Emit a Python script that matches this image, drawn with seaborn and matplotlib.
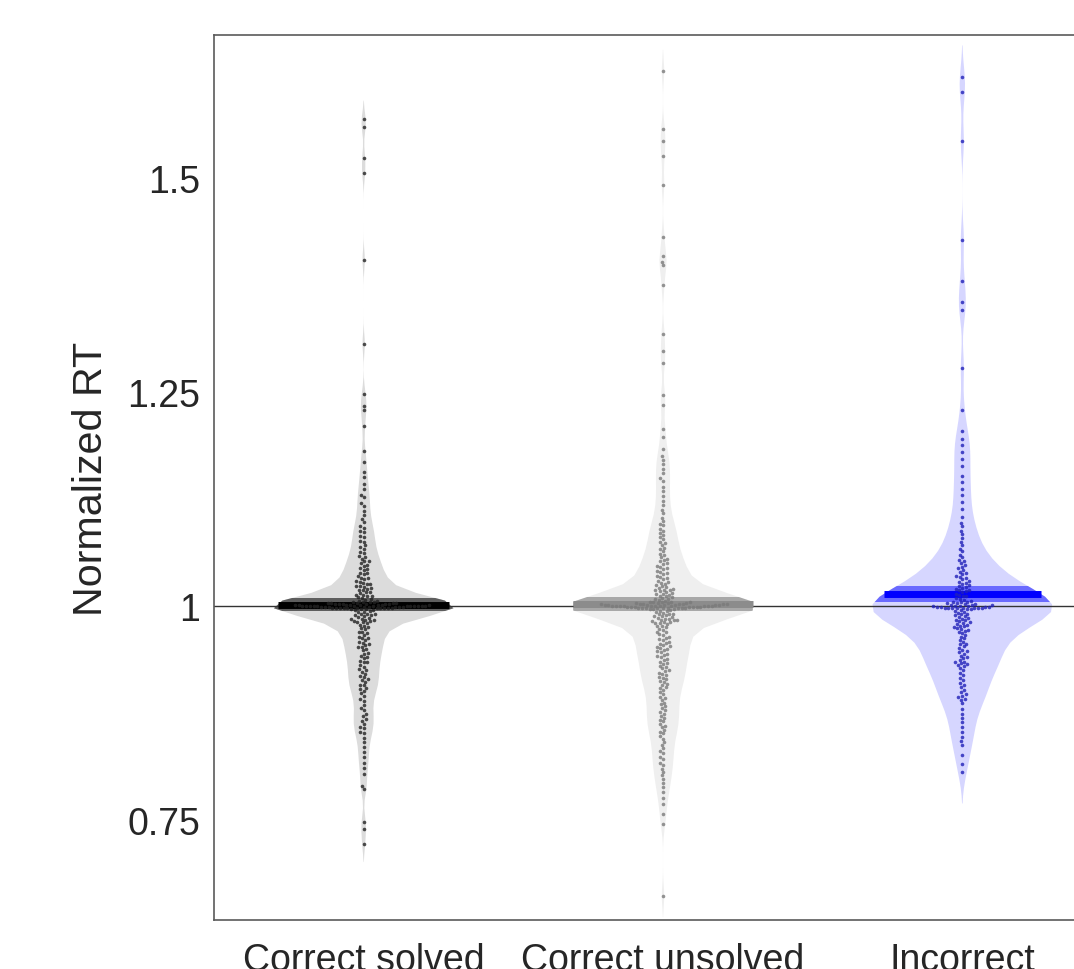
import numpy as np
import pandas as pd
import matplotlib
matplotlib.use("Agg")
import matplotlib.pyplot as plt
from matplotlib.patches import Rectangle
import seaborn as sns

# ---------------- data ----------------
categories = ["Correct solved", "Correct unsolved", "Incorrect"]

correct_solved = [
    1.569, 1.560, 1.523, 1.506, 1.404, 1.306, 1.248, 1.234, 1.229, 1.210, 1.181,
    1.168, 1.157, 1.151, 1.142, 1.137, 1.130, 1.127, 1.120, 1.117, 1.111, 1.106, 1.102,
    1.098, 1.093, 1.091, 1.088, 1.086, 1.082, 1.080, 1.076, 1.075, 1.071, 1.069, 1.067,
    1.063, 1.062, 1.058, 1.057, 1.055, 1.052, 1.052, 1.050,
    1.048, 1.047, 1.044, 1.043, 1.042, 1.039, 1.038, 1.037, 1.035, 1.033, 1.033, 1.031,
    1.029, 1.028, 1.027, 1.026, 1.025, 1.023, 1.023, 1.022, 1.021, 1.020,
    1.019, 1.018, 1.016, 1.016, 1.015, 1.013, 1.013, 1.012, 1.011, 1.010, 1.009, 1.008,
    1.007, 1.006, 1.006,
    1.005, 1.004, 1.004, 1.003, 1.003, 1.003, 1.002, 1.002, 1.002, 1.002, 1.001, 1.001,
    1.001, 1.001, 1.001, 1.000, 1.000, 1.000, 1.000, 1.000, 1.000, 1.000, 1.000, 0.999,
    0.999, 0.999, 0.999, 0.999, 0.998, 0.998, 0.998, 0.998, 0.997, 0.997, 0.997, 0.996,
    0.996, 0.995, 0.995, 1.000, 1.001, 0.999, 1.002, 0.998, 1.000, 1.003, 0.997, 1.001,
    0.999, 1.000, 1.004, 0.996, 1.002, 0.998, 1.000, 1.001, 0.999, 1.000, 1.003, 0.997,
    0.994, 0.993, 0.993, 0.991, 0.991, 0.990, 0.989, 0.989, 0.988, 0.987, 0.986, 0.985,
    0.985, 0.984, 0.983, 0.982, 0.982, 0.981, 0.981, 0.980,
    0.978, 0.977, 0.975, 0.974, 0.973, 0.970, 0.970, 0.968, 0.966, 0.964, 0.963, 0.962,
    0.960, 0.958, 0.957, 0.955, 0.954, 0.952, 0.952, 0.950,
    0.948, 0.945, 0.944, 0.942, 0.940, 0.939, 0.936, 0.935, 0.934, 0.931, 0.929, 0.926,
    0.925, 0.923, 0.921, 0.918, 0.917, 0.914, 0.913, 0.911, 0.908, 0.907, 0.904, 0.903,
    0.901,
    0.898, 0.895, 0.891, 0.889, 0.884, 0.881, 0.878, 0.874, 0.871, 0.868, 0.866, 0.862,
    0.859, 0.857, 0.853, 0.851,
    0.846, 0.841, 0.835, 0.829, 0.824, 0.817, 0.811, 0.803,
    0.790, 0.786, 0.748, 0.739, 0.722,
]

correct_unsolved = [
    1.625, 1.557, 1.543, 1.526, 1.492, 1.431, 1.409, 1.402, 1.398, 1.375, 1.318, 1.298,
    1.284, 1.246, 1.235, 1.207, 1.197, 1.183, 1.175,
    1.171, 1.166, 1.160, 1.155, 1.149, 1.146, 1.139, 1.134, 1.128, 1.123, 1.118, 1.112,
    1.108, 1.103,
    1.099, 1.096, 1.094, 1.090, 1.088, 1.085, 1.083, 1.080, 1.078, 1.075, 1.073, 1.071,
    1.068, 1.066, 1.064, 1.061, 1.059, 1.057, 1.055, 1.054, 1.052, 1.050,
    1.049, 1.047, 1.046, 1.044, 1.043, 1.041, 1.040, 1.038, 1.037, 1.035, 1.034, 1.032,
    1.031, 1.029, 1.028, 1.027, 1.026, 1.024, 1.023, 1.022, 1.021, 1.020,
    1.019, 1.018, 1.018, 1.017, 1.016, 1.015, 1.014, 1.014, 1.013, 1.012, 1.011, 1.010,
    1.009, 1.008, 1.008, 1.007, 1.006, 1.005,
    1.005, 1.004, 1.004, 1.004, 1.003, 1.003, 1.003, 1.002, 1.002, 1.002, 1.002, 1.001,
    1.001, 1.001, 1.001, 1.000, 1.000, 1.000, 1.000, 1.000, 1.000, 1.000, 0.999, 0.999,
    0.999, 0.999, 0.998, 0.998, 0.998, 0.997, 0.997, 0.997, 0.996, 0.996, 0.995, 1.000,
    1.001, 0.999, 1.002, 0.998, 1.000, 1.003, 0.997, 1.001, 0.999, 1.000, 1.002, 0.996,
    1.001, 0.998, 1.000, 1.002, 0.999,
    0.994, 0.994, 0.993, 0.992, 0.991, 0.991, 0.990, 0.989, 0.988, 0.988, 0.987, 0.986,
    0.985, 0.985, 0.984, 0.983, 0.983, 0.982, 0.981, 0.981, 0.980, 0.980,
    0.979, 0.977, 0.976, 0.975, 0.973, 0.972, 0.970, 0.969, 0.967, 0.966, 0.964, 0.963,
    0.961, 0.960, 0.958, 0.957, 0.956, 0.954, 0.953, 0.952, 0.951, 0.950,
    0.949, 0.947, 0.946, 0.944, 0.943, 0.941, 0.940, 0.938, 0.937, 0.935, 0.933, 0.932,
    0.930, 0.929, 0.927, 0.925, 0.924, 0.922, 0.921, 0.919, 0.917, 0.916, 0.914, 0.912,
    0.911, 0.909, 0.907, 0.905, 0.904, 0.902,
    0.899, 0.897, 0.894, 0.892, 0.890, 0.887, 0.885, 0.883, 0.881, 0.878, 0.876, 0.874,
    0.871, 0.869, 0.867, 0.865, 0.862, 0.860, 0.858, 0.855, 0.853, 0.851,
    0.848, 0.845, 0.841, 0.838, 0.834, 0.831, 0.828, 0.824, 0.821, 0.817, 0.814, 0.810,
    0.806, 0.802, 0.798, 0.793, 0.788, 0.783,
    0.776, 0.768, 0.757, 0.745,
    0.661,
]

incorrect = [
    1.618, 1.600, 1.543, 1.428, 1.380, 1.355, 1.346, 1.278, 1.229, 1.204,
    1.195, 1.188, 1.180, 1.172, 1.163, 1.152, 1.145, 1.137, 1.129, 1.121, 1.113, 1.104,
    1.097, 1.093, 1.088, 1.084, 1.079, 1.075, 1.071, 1.067, 1.064, 1.060, 1.057, 1.054,
    1.052, 1.050,
    1.048, 1.046, 1.044, 1.042, 1.040, 1.039, 1.037, 1.035, 1.034, 1.032, 1.031, 1.029,
    1.028, 1.027, 1.026, 1.024, 1.023, 1.022, 1.021, 1.020,
    1.019, 1.018, 1.017, 1.016, 1.014, 1.013, 1.012, 1.011, 1.009, 1.008, 1.007, 1.006,
    1.005, 1.004, 1.004, 1.003, 1.003, 1.002, 1.002, 1.001, 1.001, 1.000, 1.000, 1.000,
    0.999, 0.999, 0.999, 0.998, 0.998, 0.998, 0.997, 0.997, 0.997, 0.996, 0.996, 0.995,
    0.999, 1.000, 0.998, 1.001, 0.997,
    0.994, 0.993, 0.992, 0.991, 0.990, 0.989, 0.988, 0.987, 0.986, 0.985, 0.984, 0.983,
    0.982, 0.981, 0.980, 0.979, 0.978, 0.977, 0.976, 0.975, 0.974, 0.973, 0.972, 0.971,
    0.970,
    0.968, 0.966, 0.964, 0.962, 0.960, 0.958, 0.956, 0.955, 0.953, 0.951, 0.949, 0.947,
    0.946, 0.944, 0.942, 0.940, 0.939, 0.937, 0.935, 0.934, 0.933, 0.932, 0.931, 0.930,
    0.928, 0.925, 0.922, 0.919, 0.916, 0.913, 0.910, 0.908, 0.905, 0.902, 0.899, 0.897,
    0.895, 0.893, 0.891, 0.890,
    0.886, 0.880, 0.874, 0.869, 0.864, 0.858, 0.853, 0.847, 0.842,
    0.838, 0.826, 0.815, 0.806,
]

yticks = [0.75, 1.0, 1.25, 1.5]
ytick_labels = ["0.75", "1", "1.25", "1.5"]

violin_colors = ["#dcdcdc", "#efefef", "#d6d6ff"]
band_colors = ["#5e5e5e", "#a8a8a8", "#6a6aff"]
bar_colors = ["#000000", "#8c8c8c", "#0000ff"]
point_colors = ["#222222", "#7a7a7a", "#2020b8"]
bw_adjusts = [0.28, 0.28, 0.42]

groups = [correct_solved, correct_unsolved, incorrect]

# ---------------- figure ----------------
sns.set_theme(style="white")
plt.rcParams["font.family"] = ["Liberation Sans", "DejaVu Sans"]

fig = plt.figure(figsize=(10.74, 9.70), dpi=100)
ax = fig.add_axes([214 / 1074, 49 / 970, 898 / 1074, 885 / 970])

for i, (cat, vals) in enumerate(zip(categories, groups)):
    vals = np.asarray(vals, dtype=float)
    df = pd.DataFrame({"cond": [cat] * len(vals), "rt": vals})
    mean = vals.mean()
    sem = vals.std(ddof=1) / np.sqrt(len(vals))

    # light outer violin
    n0 = len(ax.collections)
    sns.violinplot(data=df, x="cond", y="rt", order=categories, color=violin_colors[i],
                   saturation=1, inner=None, linewidth=0, width=0.6,
                   bw_adjust=bw_adjusts[i], cut=2, density_norm="width", ax=ax)
    outer = ax.collections[n0:]
    for c in outer:
        c.set_zorder(1)
        c.set_edgecolor("none")

    # darker band: same violin clipped to mean +/- SEM
    n1 = len(ax.collections)
    sns.violinplot(data=df, x="cond", y="rt", order=categories, color=band_colors[i],
                   saturation=1, inner=None, linewidth=0, width=0.6,
                   bw_adjust=bw_adjusts[i], cut=2, density_norm="width", ax=ax)
    clip = Rectangle((i - 0.5, mean - sem), 1.0, 2 * sem, transform=ax.transData,
                     facecolor="none", edgecolor="none")
    ax.add_patch(clip)
    for c in ax.collections[n1:]:
        c.set_clip_path(clip)
        c.set_zorder(1.5)
        c.set_edgecolor("none")

    # mean bar spanning the violin width at the mean
    verts = outer[0].get_paths()[0].vertices
    right = verts[verts[:, 0] > i + 1e-9]
    order = np.argsort(right[:, 1])
    half = np.interp(mean, right[order, 1], right[order, 0]) - i
    ax.hlines(mean, i - half, i + half, colors=bar_colors[i], linewidth=5,
              zorder=2.6, capstyle="butt")

    # points
    sns.swarmplot(data=df, x="cond", y="rt", order=categories, color=point_colors[i],
                  size=2.6, linewidth=0, alpha=0.8, zorder=3, ax=ax, warn_thresh=1.0)

ax.axhline(1.0, color="#333333", linewidth=1.0, zorder=2.2)

ax.set_xlim(-0.5, 2.5)
ax.set_ylim(0.633, 1.667)
ax.set_yticks(yticks)
ax.set_yticklabels(ytick_labels)
ax.set_xticks(range(len(categories)))
ax.set_xticklabels(categories)
ax.tick_params(axis="both", length=0, labelsize=27, colors="#262626")
ax.tick_params(axis="y", pad=10)
ax.tick_params(axis="x", pad=16)
ax.set_xlabel("")
ax.set_ylabel("Normalized RT", fontsize=29.7, color="#262626")
ax.yaxis.set_label_coords(-0.116, 0.5)

for side in ["left", "top", "bottom"]:
    ax.spines[side].set_visible(True)
    ax.spines[side].set_color("#5a5a5a")
    ax.spines[side].set_linewidth(1.2)
ax.spines["right"].set_visible(False)

fig.savefig("out.png", dpi=100)
